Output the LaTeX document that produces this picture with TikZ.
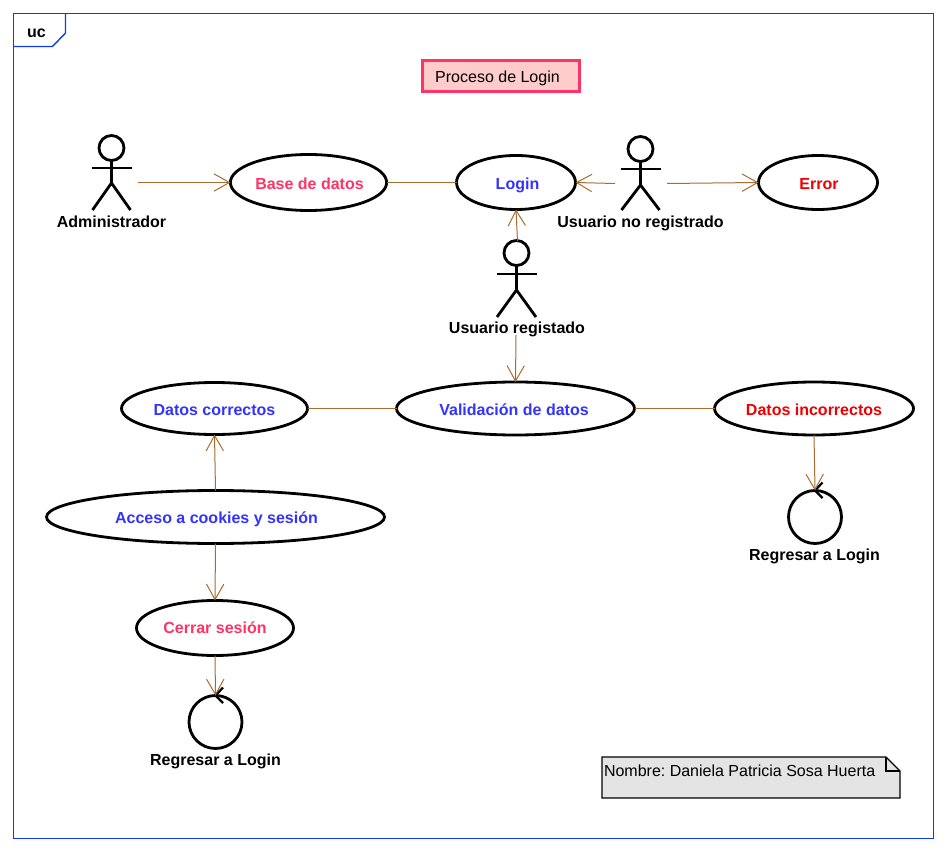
\documentclass[tikz,border=0pt]{standalone}
\usepackage{fontspec}
\setmainfont{Liberation Sans}
\usetikzlibrary{arrows.meta,shapes.geometric}
\newdimen\px \px=0.75pt
\definecolor{framec}{HTML}{0A3CF0}
\definecolor{conn}{HTML}{A86C30}
\definecolor{pinkt}{HTML}{FF3366}
\definecolor{bluet}{HTML}{3333FF}
\definecolor{redt}{HTML}{EE0000}
\definecolor{notef}{HTML}{E4E4E4}
\definecolor{titlef}{HTML}{FFCCCC}
\tikzset{
  x=0.75pt,y=-0.75pt,
  strutted/.style={text height=11.4pt,text depth=1.2pt},
  txt/.style={font=\fontsize{12}{14}\selectfont,inner sep=0pt,outer sep=0pt,strutted},
  lab/.style={txt,font=\fontsize{12}{14}\selectfont\bfseries,text=black},
  uc/.style={draw=black,line width=2.8\px,fill=white,ellipse,inner sep=0pt,outer sep=0pt,strutted,font=\fontsize{12}{14}\selectfont\bfseries},
  boundary/.style={draw=black,line width=2.8\px,circle,inner sep=0pt,outer sep=0pt,minimum size=53\px,fill=white},
  actorline/.style={draw=black,line width=2.8\px},
  frameline/.style={draw=framec,line width=1.4\px},
  assoc/.style={draw=conn,line width=1\px},
  dep/.style={assoc,-{Straight Barb[length=11.5pt,width=13pt,line width=0.75pt]}},
}
\newcommand{\stickman}[7]{% cx, head y, arm y, hip y, foot y, half arm, half foot
  \draw[actorline] (#1,#2) circle[radius=12.5\px];
  \draw[actorline] (#1,#2+12.5) -- (#1,#4);
  \draw[actorline] (#1-#6,#3) -- (#1+#6,#3);
  \draw[actorline] (#1-#7,#5) -- (#1,#4) -- (#1+#7,#5);
}
\begin{document}
\frenchspacing
\begin{tikzpicture}
\useasboundingbox (0,0) rectangle (946,852);
% frame
\draw[frameline] (13.5,13.5) rectangle (933.5,838.4);
\draw[frameline] (65.5,13.5) -- (65.5,33) -- (52.5,46.5) -- (13.5,46.5);
\node[lab] (uclabel) at (36.5,30.5) {uc};
% title
\node[txt,draw=pinkt,fill=titlef,line width=3\px,minimum width=157\px,minimum height=31\px] (title) at (501,76) {\hspace*{-7\px}Proceso de Login};
% use cases
\node[uc,minimum width=156\px,minimum height=56\px,text=pinkt] (base) at (308.5,182.5) {\hspace*{2\px}Base de datos};
\node[uc,minimum width=119\px,minimum height=54\px,text=bluet] (login) at (516,182.5) {\hspace*{3\px}Login};
\node[uc,minimum width=119\px,minimum height=54\px,text=redt] (error) at (818,182.5) {\hspace*{2\px}Error};
\node[uc,minimum width=186\px,minimum height=52\px,text=bluet] (correctos) at (214.5,408.5) {Datos correctos};
\node[uc,minimum width=238\px,minimum height=53\px,text=bluet] (valida) at (515.5,408.5) {\hspace*{-3\px}Validación de datos};
\node[uc,minimum width=199\px,minimum height=53\px,text=redt] (incorrectos) at (814,408.5) {Datos incorrectos};
\node[uc,minimum width=338\px,minimum height=53\px,text=bluet] (acceso) at (215.5,517) {\hspace*{2\px}Acceso a cookies y sesión};
\node[uc,minimum width=157\px,minimum height=55\px,text=pinkt,text height=9.9pt] (cerrar) at (215,628) {Cerrar sesión};
% boundaries
\node[boundary] (finA) at (215.5,722) {};
\node[boundary] (finB) at (815,517) {};
\draw[actorline,line width=2.2\px] (223,687.5) -- (215.5,695.5) -- (223,703);
\draw[actorline,line width=2.2\px] (822.5,482.5) -- (815,490.5) -- (822.5,498);
\node[lab] (finAl) at (215.5,758.8) {Regresar a Login};
\node[lab] (finBl) at (814.5,554) {Regresar a Login};
% actors
\stickman{111.5}{148}{168}{183}{210}{20}{19}
\stickman{640.5}{149}{169}{185}{210}{20}{19}
\stickman{516.5}{253}{274}{290}{317}{20}{19.5}
\node[lab] (admin) at (111.5,221) {Administrador};
\node[lab] (noreg) at (640.5,221) {Usuario no registrado};
\node[lab] (reg) at (517,327) {Usuario registado};
% connector free ends at the actors
\coordinate (adminR) at (138,182.5);
\coordinate (noregL) at (615,183.5);
\coordinate (noregR) at (667,183.5);
\coordinate (regT) at (517.5,241);
\coordinate (regB) at (516,335);
% connectors
\draw[dep] (adminR) -- (base.west);
\draw[assoc] (base.east) -- (login.west);
\draw[dep] (noregL) -- (login.east);
\draw[dep] (noregR) -- (error.west);
\draw[dep] (regT) -- (login.south);
\draw[dep] (regB) -- (valida.north);
\draw[assoc] (correctos.east) -- (valida.west);
\draw[assoc] (valida.east) -- (incorrectos.west);
\draw[dep] (incorrectos.south) -- (finB.north);
\draw[dep] (acceso.north) -- (correctos.south);
\draw[dep] (acceso.south) -- (cerrar.north);
\draw[dep] (cerrar.south) -- (finA.north);
% note
\draw[draw=black,line width=1.4\px,fill=notef] (602,757) -- (886,757) -- (900,771) -- (900,798) -- (602,798) -- cycle;
\draw[draw=black,line width=1.4\px] (886,757) -- (886,771) -- (900,771);
\node[txt,anchor=base west,text height=,text depth=] (note) at (604,776) {Nombre: Daniela Patricia Sosa Huerta};
\end{tikzpicture}
\end{document}
